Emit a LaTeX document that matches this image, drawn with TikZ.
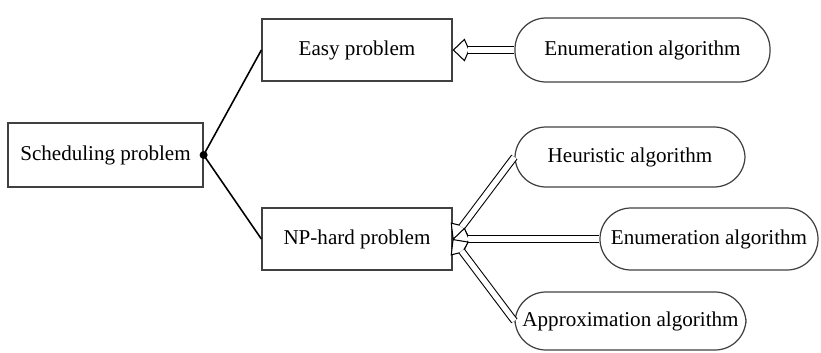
\documentclass[tikz,border=0pt]{standalone}
\usepackage{fontspec}
\setmainfont{Liberation Serif}
\usetikzlibrary{arrows.meta,calc}

\begin{document}
\begin{tikzpicture}[
      box/.style={draw=black!75, line width=0.7pt, minimum width=3.8cm, minimum height=1.24cm,
                  inner sep=0pt, font=\fontsize{12}{14}\selectfont},
      algo/.style={box, rounded corners=0.62cm},
      link/.style={line width=0.9pt},
      shaft/.style={double, double distance=0.11cm, line width=0.6pt, shorten >=0.3cm},
      head/.style={line width=0.6pt, -{Kite[length=0.34cm, width=0.46cm, inset=0.1cm, fill=white]}}]
    \useasboundingbox (0,0) rectangle (16.42,-7.04);
    \node[box, minimum width=3.9cm, minimum height=1.28cm] (sched) at (2.11,-3.10) {Scheduling problem};
    \node[box] (easy) at (7.14,-1.00) {Easy problem};
    \node[box] (np) at (7.14,-4.78) {NP-hard problem};
    \node[algo, minimum width=5.10cm, minimum height=1.28cm] (enumA) at (12.85,-1.00) {Enumeration algorithm};
    \node[algo, minimum width=4.60cm, minimum height=1.20cm] (heur) at (12.60,-3.14) {Heuristic algorithm};
    \node[algo, minimum width=4.36cm, minimum height=1.24cm] (enumB) at (14.18,-4.78) {Enumeration algorithm};
    \node[algo, minimum width=4.62cm, minimum height=1.16cm] (approx) at (12.61,-6.42) {Approximation algorithm};
    % tree of the problem classes
    \draw[link] (sched.east) -- (easy.west);
    \draw[link] (sched.east) -- (np.west);
    \fill (sched.east) circle (0.08cm);
    % algorithms for each class (hollow arrows: head first, shaft on top)
    \foreach \src/\dst in {enumA/easy, heur/np, enumB/np, approx/np} {
      \draw[head] ($(\dst.east)!0.45cm!(\src.west)$) -- (\dst.east);
      \draw[shaft] (\src.west) -- (\dst.east);
    }
  \end{tikzpicture}
\end{document}
